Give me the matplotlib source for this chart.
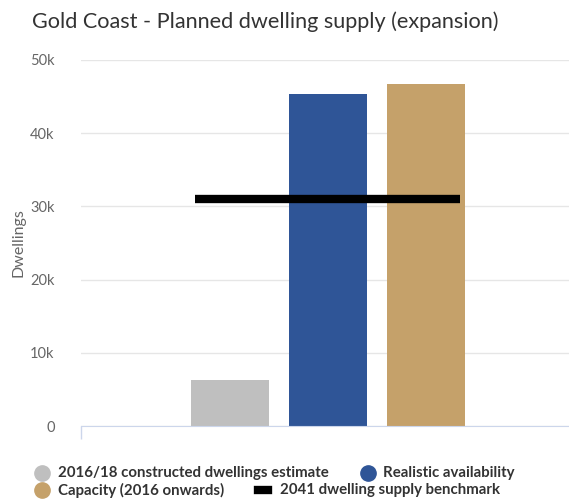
import matplotlib.pyplot as plt
from matplotlib.lines import Line2D

plt.rcParams['font.family'] = ['Lato', 'DejaVu Sans']

# data
series = ["2016/18 constructed dwellings estimate", "Realistic availability",
          "Capacity (2016 onwards)"]
values = [6300, 45300, 46700]
colors = ["#bfbfbf", "#2f5597", "#c5a16a"]
benchmark_label = "2041 dwelling supply benchmark"
benchmark = 31000
yticks = [0, 10000, 20000, 30000, 40000, 50000]
ytick_labels = ["0", "10k", "20k", "30k", "40k", "50k"]

W, H = 569, 501
fig = plt.figure(figsize=(W / 100, H / 100), dpi=100)
ax = fig.add_axes([81 / W, 1 - 426 / H, (569 - 81) / W, (426 - 60) / H])

x = list(range(len(values)))
ax.bar(x, values, width=0.8, color=colors, zorder=2)
ax.hlines(benchmark, -0.36, 2.35, color="black", linewidth=6, zorder=3)

ax.set_xlim(-1.52, 3.46)
ax.set_ylim(0, 50000)
ax.set_yticks(yticks)
ax.set_yticklabels(ytick_labels)
ax.grid(axis="y", color="#e6e6e6", linewidth=1, zorder=0)
ax.set_axisbelow(True)
ax.tick_params(axis="y", length=0, pad=19, labelsize=10.5, labelcolor="#666666")
ax.set_xticks([-1.52])
ax.set_xticklabels([])
ax.tick_params(axis="x", length=9, color="#ccd6eb", width=1)
for s in ["top", "right", "left"]:
    ax.spines[s].set_visible(False)
ax.spines["bottom"].set_color("#ccd6eb")
ax.set_ylabel("Dwellings", color="#666666", fontsize=11.5, labelpad=3)

fig.text(32 / W, 1 - 22 / H, "Gold Coast - Planned dwelling supply (expansion)",
         fontsize=15.6, color="#333333", va="center", ha="left")

# legend, laid out as flowing items
items = [
    (42, 473, "o", colors[0], series[0], 58),
    (368, 473, "o", colors[1], series[1], 383),
    (42, 490, "o", colors[2], series[2], 58),
    (263, 490, "s", "black", benchmark_label, 280),
]
for mx, my, mk, c, lab, tx in items:
    if mk == "o":
        fig.add_artist(Line2D([mx / W], [1 - my / H], marker="o", markersize=11,
                              color=c, linestyle="none", transform=fig.transFigure))
    else:
        fig.add_artist(Line2D([(mx - 5) / W, (mx + 5) / W], [1 - my / H] * 2,
                              color=c, linewidth=6, transform=fig.transFigure))
    fig.text(tx / W, 1 - my / H, lab, fontsize=10.8, fontweight="bold",
             color="#333333", va="center", ha="left")

fig.savefig("out.png", dpi=100)
